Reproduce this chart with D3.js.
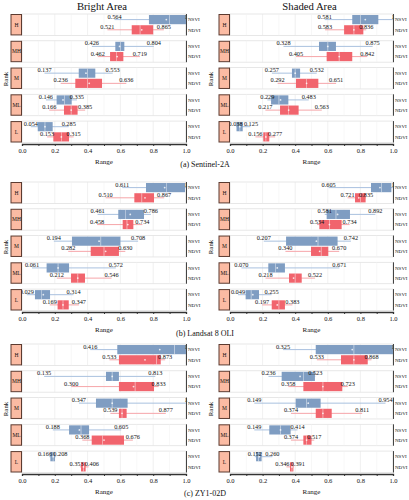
<!DOCTYPE html>
<html><head><meta charset="utf-8">
<script src="https://cdn.jsdelivr.net/npm/d3@7"></script>
<style>body{margin:0;background:#fff}svg{display:block}text{font-family:"Liberation Serif","Times New Roman",serif;fill:#111}</style>
</head><body><svg id="c" width="409" height="500"></svg>
<script>
const ranks = ["H","MH","M","ML","L"];
const indices = ["NSVI","NDVI"];
const sensors = ["(a) Sentinel-2A","(b) Landsat 8 OLI","(c) ZY1-02D"];
const areas = ["Bright Area","Shaded Area"];
const xTicks = [0,0.1,0.2,0.3,0.4,0.5,0.6,0.7,0.8,0.9,1.0];
const xLabelTicks = [0,0.2,0.4,0.6,0.8,1.0];
// rows per rank (H, MH, M, ML, L): [min, q1, median, q3, max, mean]
const s2BrightNSVI = [[0.564,0.774,0.90,1.0,1.0,0.88],[0.426,0.569,0.60,0.624,0.804,0.595],[0.137,0.346,0.40,0.447,0.553,0.39],[0.146,0.211,0.26,0.303,0.335,0.25],[0.054,0.096,0.14,0.187,0.285,0.14]];
const s2BrightNDVI = [[0.521,0.669,0.72,0.80,0.865,0.73],[0.462,0.537,0.575,0.618,0.719,0.58],[0.236,0.325,0.40,0.488,0.636,0.41],[0.166,0.256,0.30,0.339,0.385,0.30],[0.153,0.191,0.24,0.287,0.315,0.24]];
const s2ShadedNSVI = [[0.581,0.75,0.80,0.91,1.0,0.83],[0.328,0.546,0.60,0.65,0.875,0.60],[0.257,0.38,0.40,0.43,0.532,0.40],[0.229,0.252,0.30,0.358,0.483,0.31],[0.038,0.040,0.06,0.078,0.125,0.06]];
const s2ShadedNDVI = [[0.583,0.70,0.76,0.818,0.836,0.76],[0.405,0.593,0.67,0.75,0.842,0.67],[0.292,0.405,0.47,0.542,0.651,0.47],[0.217,0.307,0.36,0.421,0.563,0.36],[0.156,0.204,0.22,0.241,0.277,0.22]];
const l8BrightNSVI = [[0.611,0.756,0.88,0.994,1.0,0.87],[0.461,0.587,0.63,0.744,0.786,0.66],[0.194,0.305,0.48,0.60,0.708,0.47],[0.061,0.15,0.22,0.287,0.572,0.22],[0.029,0.079,0.12,0.171,0.314,0.13]];
const l8BrightNDVI = [[0.510,0.685,0.73,0.805,0.867,0.75],[0.458,0.614,0.64,0.679,0.734,0.645],[0.282,0.419,0.50,0.591,0.630,0.51],[0.212,0.299,0.34,0.384,0.546,0.34],[0.169,0.217,0.25,0.285,0.347,0.25]];
const l8ShadedNSVI = [[0.605,0.865,0.93,0.99,1.0,0.92],[0.581,0.593,0.65,0.736,0.892,0.66],[0.207,0.344,0.54,0.66,0.742,0.53],[0.070,0.235,0.28,0.337,0.671,0.29],[0.049,0.096,0.13,0.178,0.255,0.14]];
const l8ShadedNDVI = [[0.721,0.767,0.80,0.832,0.835,0.79],[0.534,0.548,0.61,0.685,0.734,0.61],[0.340,0.497,0.56,0.603,0.670,0.55],[0.218,0.362,0.40,0.44,0.522,0.39],[0.197,0.256,0.30,0.337,0.383,0.29]];
const zyBrightNSVI = [[0.416,0.581,0.93,1.0,1.0,0.84],[0.135,0.512,0.55,0.591,0.813,0.55],[0.347,0.451,0.55,0.644,1.0,0.55],[0.188,0.287,0.36,0.409,0.605,0.35],[0.166,0.173,0.19,0.201,0.208,0.19]];
const zyBrightNDVI = [[0.533,0.591,0.82,0.846,0.873,0.75],[0.300,0.591,0.69,0.805,0.833,0.68],[0.539,0.591,0.61,0.638,0.877,0.61],[0.368,0.425,0.49,0.622,0.676,0.50],[0.353,0.36,0.375,0.388,0.406,0.375]];
const zyShadedNSVI = [[0.325,0.526,0.76,1.0,1.0,0.75],[0.236,0.317,0.45,0.521,0.523,0.43],[0.149,0.403,0.47,0.556,0.954,0.48],[0.149,0.241,0.31,0.372,0.414,0.31],[0.152,0.16,0.175,0.194,0.260,0.18]];
const zyShadedNDVI = [[0.533,0.681,0.76,0.845,0.868,0.76],[0.358,0.45,0.57,0.689,0.723,0.57],[0.374,0.526,0.57,0.624,0.811,0.57],[0.374,0.45,0.47,0.50,0.517,0.47],[0.346,0.368,0.38,0.389,0.391,0.38]];

const panelData = [
  [[s2BrightNSVI,s2BrightNDVI],[s2ShadedNSVI,s2ShadedNDVI]],
  [[l8BrightNSVI,l8BrightNDVI],[l8ShadedNSVI,l8ShadedNDVI]],
  [[zyBrightNSVI,zyBrightNDVI],[zyShadedNSVI,zyShadedNDVI]]
];

const boxColor = {NSVI:"#7f9dc2", NDVI:"#f1646d"};
const whiskColor = {NSVI:"#a9c1df", NDVI:"#f6a5a9"};
const fmt = v => v >= 1 ? "1" : v.toFixed(3);

const svg = d3.select("#c");
const panelTops = [14, 182, 344];
const captionY = [167, 336, 496];
const xRanges = [[22,186],[230,393]];
const LABEL_FS = 6.3;

function labelWidth(s) { return s.length === 1 ? 3.2 : 14.2; }

function drawArea(g, xr, top, data, title, rankX) {
  const x = d3.scaleLinear().domain([0,1]).range(xr);
  const fy = d3.scaleBand().domain(ranks).range([top, top+128.5]).paddingInner(0.2);
  const h = fy.bandwidth();
  ranks.forEach((r, ri) => {
    const ft = fy(r);
    const fg = g.append("g");
    fg.append("rect").attr("x", xr[0]).attr("y", ft).attr("width", xr[1]-xr[0]).attr("height", h)
      .attr("fill", "#fff").attr("stroke", "#e2e2e2").attr("stroke-width", 0.8);
    fg.selectAll("line.grid").data(xTicks).join("line")
      .attr("x1", d => x(d)).attr("x2", d => x(d)).attr("y1", ft).attr("y2", ft+h)
      .attr("stroke", (d,i) => i % 2 === 0 ? "#e6e6e6" : "#f2f2f2").attr("stroke-width", 0.6);
    const y = d3.scaleBand().domain(indices).range([ft, ft+h]).padding(0.1);
    indices.forEach((k, ki) => {
      const d = data[ki][ri];
      const cy = y(k) + y.bandwidth()/2;
      fg.append("line").attr("x1", x(d[0])).attr("x2", x(d[4])).attr("y1", cy).attr("y2", cy)
        .attr("stroke", whiskColor[k]).attr("stroke-width", 1);
      fg.append("rect").attr("x", x(d[1])).attr("y", y(k)).attr("width", Math.max(0.8, x(d[3])-x(d[1])))
        .attr("height", y.bandwidth()).attr("fill", boxColor[k]);
      fg.append("line").attr("x1", x(d[2])).attr("x2", x(d[2])).attr("y1", y(k)).attr("y2", y(k)+y.bandwidth())
        .attr("stroke", "#fff").attr("stroke-width", 0.6).attr("opacity", 0.8);
      fg.append("circle").attr("cx", x(d[5])).attr("cy", cy).attr("r", 0.9).attr("fill", "#fff").attr("opacity", 0.8);
      // min / max labels, pushed apart when they would collide
      const sMin = fmt(d[0]), sMax = fmt(d[4]);
      let cMin = x(d[0]), cMax = x(d[4]);
      const need = (labelWidth(sMin) + labelWidth(sMax)) / 2 + 1.2;
      const gap = cMax - cMin;
      if (gap < need) { const sh = (need - gap) / 2; cMin -= sh; cMax += sh; }
      fg.append("text").attr("x", cMin).attr("y", cy - 0.9).attr("text-anchor", "middle")
        .attr("font-size", LABEL_FS).text(sMin);
      fg.append("text").attr("x", cMax).attr("y", cy - 0.9).attr("text-anchor", "middle")
        .attr("font-size", LABEL_FS).text(sMax);
      fg.append("text").attr("x", xr[1] + 2).attr("y", cy + 1.7).attr("font-size", 5).text(k);
    });
    // left rank strip
    fg.append("rect").attr("x", xr[0]-11).attr("y", ft+0.5).attr("width", 10.5).attr("height", h-1)
      .attr("fill", "#fbbba3").attr("stroke", "#5c3b30").attr("stroke-width", 1);
    fg.append("text").attr("x", xr[0]-5.5).attr("y", ft + h/2 + 2).attr("text-anchor", "middle")
      .attr("font-size", 5.5).text(r);
    // right strip line
    fg.append("line").attr("x1", xr[1]+0.5).attr("x2", xr[1]+0.5).attr("y1", ft).attr("y2", ft+h)
      .attr("stroke", "#444").attr("stroke-width", 1);
  });
  const axisY = top + 130;
  const ax = g.append("g").attr("transform", `translate(0,${axisY})`)
    .call(d3.axisBottom(x).tickValues(xTicks).tickSize(2).tickPadding(2)
      .tickFormat(d => xLabelTicks.some(t => Math.abs(t-d) < 1e-9) ? d3.format(".1f")(d) : ""));
  ax.select(".domain").attr("stroke", "#333").attr("stroke-width", 1.3);
  ax.selectAll(".tick line").attr("stroke", "#333");
  ax.selectAll(".tick text").attr("font-size", 6.5).attr("font-family", "Liberation Serif").attr("fill", "#222");
  g.append("text").attr("x", (xr[0]+xr[1])/2).attr("y", axisY + 20).attr("text-anchor", "middle")
    .attr("font-size", 7).text("Range");
  g.append("text").attr("transform", `translate(${rankX},${top+65}) rotate(-90)`).attr("text-anchor", "middle")
    .attr("font-size", 6.8).text("Rank");
  if (title) {
    g.append("text").attr("x", (xr[0]+xr[1])/2 - 2).attr("y", 10).attr("text-anchor", "middle")
      .attr("font-size", 10.7).text(title);
  }
}

sensors.forEach((s, si) => {
  const g = svg.append("g");
  areas.forEach((a, ai) => {
    drawArea(g, xRanges[ai], panelTops[si], panelData[si][ai], si === 0 ? a : null, ai === 0 ? 8 : 213);
  });
  g.append("text").attr("x", 205).attr("y", captionY[si]).attr("text-anchor", "middle")
    .attr("font-size", 8).text(s);
});
</script></body></html>
